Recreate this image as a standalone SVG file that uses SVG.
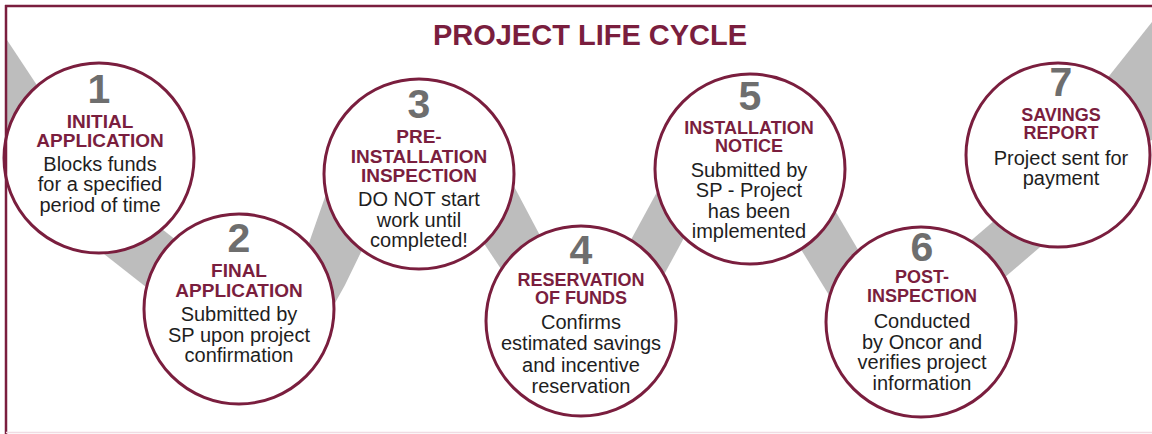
<svg xmlns="http://www.w3.org/2000/svg" width="1152" height="434" viewBox="0 0 1152 434">
<style>
.band{fill:#bdbdbd;stroke:none}
.node circle{fill:#ffffff;stroke:#7a1e3e;stroke-width:3}
text{font-family:"Liberation Sans",Arial,sans-serif;text-anchor:middle}
.num{font-size:41px;font-weight:bold;fill:#6e6e6e}
.head{font-size:19px;font-weight:bold;fill:#7a1e3e}
.head.tight{font-size:18px}
.body{font-size:20px;fill:#1e1e1e}
.title{font-size:29px;font-weight:bold;fill:#7a1e3e}
</style>
<rect x="0" y="0" width="1152" height="434" fill="#ffffff"/>
<g id="connectors">
<polygon class="band" points="7,40 60,120 30,170 7,170"/>
<polygon class="band" points="90,243 160,298 195,255 125,200"/>
<polygon class="band" points="333,174 325,197 310,240 300,268 330,312 345,285 362,250 380,225"/>
<polygon class="band" points="500,160 545,245 515,290 465,215"/>
<polygon class="band" points="620,260 670,168 710,190 660,282"/>
<polygon class="band" points="780,215 835,305 870,270 820,185"/>
<polygon class="band" points="960,250 1030,190 1060,230 990,290"/>
<polygon class="band" points="1090,100 1152,22 1152,140 1100,160"/>
</g>
<text class="title" x="590" y="45">PROJECT LIFE CYCLE</text>
<g id="node1" class="node">
<circle cx="99" cy="158" r="95"/>
<text class="num" x="99" y="103">1</text>
<text class="head" x="100" y="128">INITIAL</text>
<text class="head" x="100" y="147">APPLICATION</text>
<text class="body" x="100" y="170.5">Blocks funds</text>
<text class="body" x="100" y="191">for a specified</text>
<text class="body" x="100" y="211.5">period of time</text>
</g>
<g id="node2" class="node">
<circle cx="239" cy="309" r="95"/>
<text class="num" x="239" y="252">2</text>
<text class="head" x="239" y="277">FINAL</text>
<text class="head" x="239" y="296.5">APPLICATION</text>
<text class="body" x="239" y="320.5">Submitted by</text>
<text class="body" x="239" y="341.5">SP upon project</text>
<text class="body" x="239" y="362">confirmation</text>
</g>
<g id="node3" class="node">
<circle cx="419" cy="174" r="95"/>
<text class="num" x="419" y="118">3</text>
<text class="head" x="419" y="143">PRE-</text>
<text class="head" x="419" y="162.5">INSTALLATION</text>
<text class="head" x="419" y="182">INSPECTION</text>
<text class="body" x="419" y="206">DO NOT start</text>
<text class="body" x="419" y="226.5">work until</text>
<text class="body" x="419" y="247">completed!</text>
</g>
<g id="node4" class="node">
<circle cx="581" cy="321" r="95"/>
<text class="num" x="581" y="264">4</text>
<text class="head tight" x="581" y="286">RESERVATION</text>
<text class="head tight" x="581" y="304">OF FUNDS</text>
<text class="body" x="581" y="329">Confirms</text>
<text class="body" x="581" y="350">estimated savings</text>
<text class="body" x="581" y="371.5">and incentive</text>
<text class="body" x="581" y="393">reservation</text>
</g>
<g id="node5" class="node">
<circle cx="750" cy="169" r="95"/>
<text class="num" x="750" y="110">5</text>
<text class="head tight" x="749" y="134">INSTALLATION</text>
<text class="head tight" x="749" y="152">NOTICE</text>
<text class="body" x="749" y="176.5">Submitted by</text>
<text class="body" x="749" y="197">SP - Project</text>
<text class="body" x="749" y="217.5">has been</text>
<text class="body" x="749" y="238">implemented</text>
</g>
<g id="node6" class="node">
<circle cx="921" cy="322" r="95"/>
<text class="num" x="922" y="261">6</text>
<text class="head tight" x="922" y="282.5">POST-</text>
<text class="head tight" x="922" y="301.5">INSPECTION</text>
<text class="body" x="922" y="328">Conducted</text>
<text class="body" x="922" y="348.5">by Oncor and</text>
<text class="body" x="922" y="369">verifies project</text>
<text class="body" x="922" y="390">information</text>
</g>
<g id="node7" class="node">
<circle cx="1058" cy="155" r="92"/>
<text class="num" x="1061" y="96">7</text>
<text class="head tight" x="1061" y="120.5">SAVINGS</text>
<text class="head tight" x="1061" y="138.5">REPORT</text>
<text class="body" x="1061" y="165">Project sent for</text>
<text class="body" x="1061" y="185">payment</text>
</g>
<g id="frame">
<line x1="5" y1="6" x2="1152" y2="6" stroke="#7a1e3e" stroke-width="2.5"/>
<line x1="6" y1="5" x2="6" y2="434" stroke="#7a1e3e" stroke-width="2.5"/>
<line x1="6" y1="432.5" x2="1152" y2="432.5" stroke="#f0dce3" stroke-width="1.5"/>
</g>
</svg>
